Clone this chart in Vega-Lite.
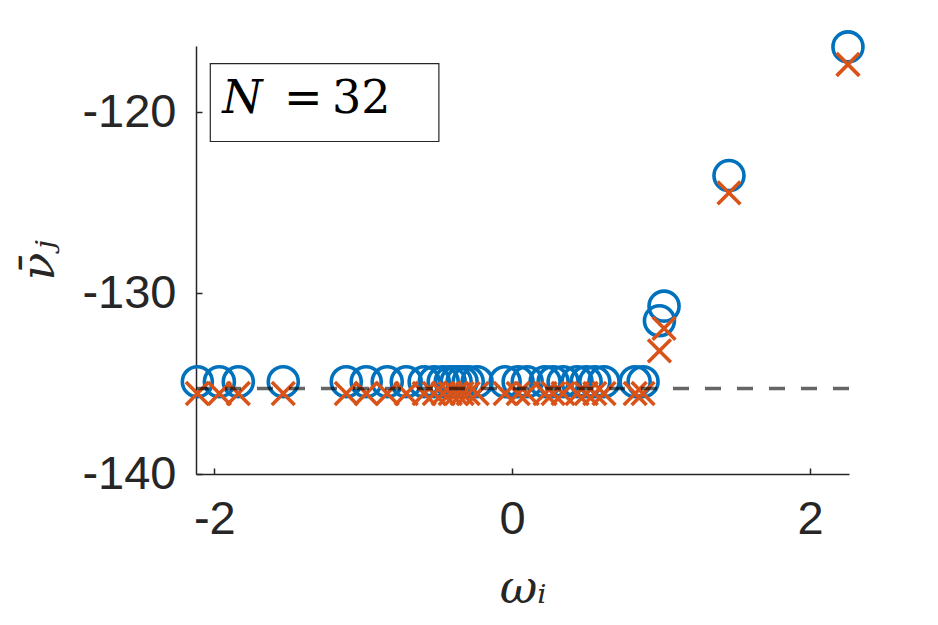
{
  "$schema": "https://vega.github.io/schema/vega-lite/v6.json",
  "width": 653,
  "height": 428,
  "autosize": "none",
  "padding": {"left": 196, "top": 46, "right": 89, "bottom": 151},
  "background": "white",
  "config": {"view": {"stroke": null}},
  "datasets": {
    "pts": [
      {"omega": -2.114, "nu_circle": -134.9, "nu_cross": -135.55},
      {"omega": -1.966, "nu_circle": -134.9, "nu_cross": -135.55},
      {"omega": -1.839, "nu_circle": -134.9, "nu_cross": -135.55},
      {"omega": -1.537, "nu_circle": -134.9, "nu_cross": -135.55},
      {"omega": -1.114, "nu_circle": -134.9, "nu_cross": -135.55},
      {"omega": -0.980, "nu_circle": -134.9, "nu_cross": -135.55},
      {"omega": -0.839, "nu_circle": -134.9, "nu_cross": -135.55},
      {"omega": -0.711, "nu_circle": -134.9, "nu_cross": -135.55},
      {"omega": -0.591, "nu_circle": -134.9, "nu_cross": -135.55},
      {"omega": -0.523, "nu_circle": -134.9, "nu_cross": -135.55},
      {"omega": -0.463, "nu_circle": -134.9, "nu_cross": -135.55},
      {"omega": -0.416, "nu_circle": -134.9, "nu_cross": -135.55},
      {"omega": -0.376, "nu_circle": -134.9, "nu_cross": -135.55},
      {"omega": -0.336, "nu_circle": -134.9, "nu_cross": -135.55},
      {"omega": -0.295, "nu_circle": -134.9, "nu_cross": -135.55},
      {"omega": -0.235, "nu_circle": -134.9, "nu_cross": -135.55},
      {"omega": -0.047, "nu_circle": -134.9, "nu_cross": -135.55},
      {"omega": 0.040, "nu_circle": -134.9, "nu_cross": -135.55},
      {"omega": 0.101, "nu_circle": -134.9, "nu_cross": -135.55},
      {"omega": 0.221, "nu_circle": -134.9, "nu_cross": -135.55},
      {"omega": 0.275, "nu_circle": -134.9, "nu_cross": -135.55},
      {"omega": 0.342, "nu_circle": -134.9, "nu_cross": -135.55},
      {"omega": 0.436, "nu_circle": -134.9, "nu_cross": -135.55},
      {"omega": 0.497, "nu_circle": -134.9, "nu_cross": -135.55},
      {"omega": 0.555, "nu_circle": -134.9, "nu_cross": -135.55},
      {"omega": 0.617, "nu_circle": -134.9, "nu_cross": -135.55},
      {"omega": 0.826, "nu_circle": -134.9, "nu_cross": -135.55},
      {"omega": 0.879, "nu_circle": -134.9, "nu_cross": -135.55},
      {"omega": 0.989, "nu_circle": -131.53, "nu_cross": -133.19},
      {"omega": 1.020, "nu_circle": -130.72, "nu_cross": -131.95},
      {"omega": 1.456, "nu_circle": -123.50, "nu_cross": -124.46},
      {"omega": 2.255, "nu_circle": -116.39, "nu_cross": -117.36}
    ],
    "box": [
      {"x1": -2.027, "x2": -0.492, "y1": -117.31, "y2": -121.62, "yref": -135.27}
    ],
    "labels": [
      {"x": -1.812, "y": -120.06, "t": "N", "style": "italic"},
      {"x": -1.403, "y": -120.06, "t": "=", "style": "normal"},
      {"x": -1.013, "y": -120.06, "t": "32", "style": "normal"}
    ]
  },
  "layer": [
    {
      "data": {"name": "pts"},
      "mark": {"type": "point", "shape": "circle", "filled": false, "stroke": "#0072BD", "strokeWidth": 3.6, "size": 900, "opacity": 1, "clip": false},
      "encoding": {
        "x": {
          "field": "omega", "type": "quantitative",
          "scale": {"domain": [-2.123, 2.262], "nice": false, "zero": false},
          "axis": {
            "values": [-2, 0, 2],
            "format": "d",
            "title": "ωᵢ",
            "titleFont": "DejaVu Serif",
            "titleFontStyle": "italic",
            "titleFontWeight": "normal",
            "titleFontSize": 46,
            "titleColor": "#262626",
            "titlePadding": 24,
            "labelFont": "Liberation Sans",
            "labelFontSize": 47,
            "labelColor": "#262626",
            "labelPadding": 28,
            "labelExpr": "replace(datum.label, '−', '-')",
            "labelFlush": false,
            "domainColor": "#262626",
            "domainWidth": 1.5,
            "tickColor": "#262626",
            "tickWidth": 1.5,
            "tickSize": -6,
            "grid": false
          }
        },
        "y": {
          "field": "nu_circle", "type": "quantitative",
          "scale": {"domain": [-140, -116.34], "nice": false, "zero": false},
          "axis": {
            "values": [-140, -130, -120],
            "format": "d",
            "title": "ν̄ⱼ",
            "titleFont": "DejaVu Serif",
            "titleFontStyle": "italic",
            "titleFontWeight": "normal",
            "titleFontSize": 46,
            "titleColor": "#262626",
            "titlePadding": 18,
            "labelFont": "Liberation Sans",
            "labelFontSize": 47,
            "labelColor": "#262626",
            "labelPadding": 26,
            "labelExpr": "replace(datum.label, '−', '-')",
            "labelFlush": false,
            "domainColor": "#262626",
            "domainWidth": 1.5,
            "tickColor": "#262626",
            "tickWidth": 1.5,
            "tickSize": -6,
            "grid": false
          }
        }
      }
    },
    {
      "data": {"name": "pts"},
      "mark": {"type": "point", "shape": "M-1,-1L1,1M-1,1L1,-1", "filled": false, "stroke": "#D95319", "strokeWidth": 3.6, "size": 520, "opacity": 1, "clip": false},
      "encoding": {
        "x": {"field": "omega", "type": "quantitative"},
        "y": {"field": "nu_cross", "type": "quantitative"}
      }
    },
    {
      "data": {"name": "box"},
      "mark": {"type": "rule", "stroke": "black", "strokeOpacity": 0.6, "strokeWidth": 3.5, "strokeDash": [16, 16]},
      "encoding": {"y": {"field": "yref", "type": "quantitative"}}
    },
    {
      "data": {"name": "box"},
      "mark": {"type": "rect", "fill": "white", "stroke": "#262626", "strokeWidth": 1.2},
      "encoding": {
        "x": {"field": "x1", "type": "quantitative"},
        "x2": {"field": "x2"},
        "y": {"field": "y1", "type": "quantitative"},
        "y2": {"field": "y2"}
      }
    },
    {
      "data": {"name": "labels"},
      "transform": [{"filter": "datum.style === 'italic'"}],
      "mark": {"type": "text", "font": "DejaVu Serif", "fontStyle": "italic", "fontSize": 46, "baseline": "alphabetic", "align": "center", "color": "black"},
      "encoding": {
        "x": {"field": "x", "type": "quantitative"},
        "y": {"field": "y", "type": "quantitative"},
        "text": {"field": "t"}
      }
    },
    {
      "data": {"name": "labels"},
      "transform": [{"filter": "datum.style === 'normal'"}],
      "mark": {"type": "text", "font": "DejaVu Serif", "fontSize": 46, "baseline": "alphabetic", "align": "center", "color": "black"},
      "encoding": {
        "x": {"field": "x", "type": "quantitative"},
        "y": {"field": "y", "type": "quantitative"},
        "text": {"field": "t"}
      }
    }
  ]
}
